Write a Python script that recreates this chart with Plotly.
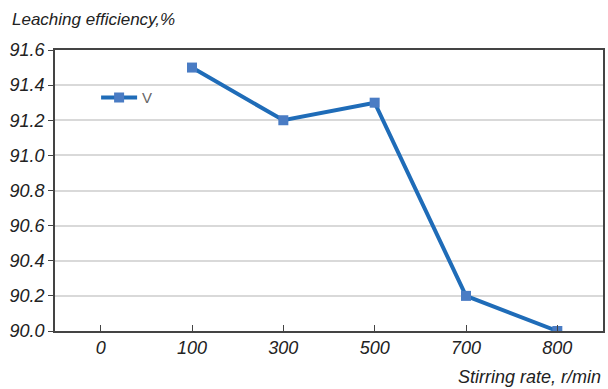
import plotly.graph_objects as go

categories = ["0", "100", "300", "500", "700", "800"]
values = [None, 91.5, 91.2, 91.3, 90.2, 90.0]
y_ticks = [90.0, 90.2, 90.4, 90.6, 90.8, 91.0, 91.2, 91.4, 91.6]
series_name = "V"

FONT = "Liberation Sans, Arial, sans-serif"

fig = go.Figure()
fig.add_trace(go.Scatter(
    x=categories, y=values, name=series_name, mode="lines+markers",
    line=dict(color="#1f6cb8", width=4),
    marker=dict(symbol="square", size=10, color="#4a7cc4", line=dict(width=0)),
    connectgaps=False,
))

fig.update_layout(
    width=608, height=389,
    margin=dict(l=55, r=3, t=50, b=58),
    paper_bgcolor="white", plot_bgcolor="white",
    showlegend=True,
    legend=dict(x=0.075, y=0.83, xanchor="left", yanchor="middle",
                bgcolor="rgba(0,0,0,0)", font=dict(family=FONT, size=15, color="#666666"),
                itemwidth=36),
    xaxis=dict(
        type="category", categoryorder="array", categoryarray=categories,
        range=[-0.5, 5.5],
        showline=True, linecolor="#444444", linewidth=1.5, mirror=True,
        ticks="inside", ticklen=6, tickcolor="#444444", tickwidth=1,
        showgrid=False,
        tickfont=dict(family=FONT, size=18, color="#222222", style="italic"),
    ),
    yaxis=dict(
        range=[90.0, 91.6], tickmode="array", tickvals=y_ticks, tickformat=".1f",
        showline=True, linecolor="#444444", linewidth=1.5, mirror=True,
        ticks="outside", ticklen=5, tickcolor="#444444", tickwidth=1,
        showgrid=True, gridcolor="#d9d9d9", gridwidth=1.5,
        zeroline=False,
        tickfont=dict(family="Liberation Sans", size=18, color="#222222", style="italic"),
    ),
    annotations=[
        dict(text="Leaching efficiency,%", xref="paper", yref="paper",
             x=-45/550, y=1 + 30/281, xanchor="left", yanchor="middle", showarrow=False,
             font=dict(family=FONT, size=17, color="#222222", style="italic")),
        dict(text="Stirring rate, r/min", xref="paper", yref="paper",
             x=1.0, y=-46/281, xanchor="right", yanchor="middle", showarrow=False,
             font=dict(family=FONT, size=18, color="#222222", style="italic")),
    ],
)

fig.write_html("out.html")
